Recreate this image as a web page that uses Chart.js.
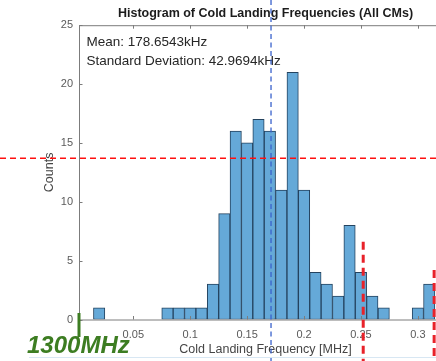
<!DOCTYPE html>
<html>
<head>
<meta charset="utf-8">
<script src="https://cdn.jsdelivr.net/npm/chart.js@4/dist/chart.umd.min.js"></script>
<style>
  html, body { margin: 0; padding: 0; background: #fff; }
  #wrap { width: 436px; height: 361px; overflow: hidden; position: relative; }
  canvas { display: block; }
</style>
</head>
<body>
<div id="wrap"><canvas id="hist" width="460" height="361"></canvas></div>
<script>
// histogram bins (MHz) and counts
const binCenters = [0.02, 0.03, 0.04, 0.05, 0.06, 0.07, 0.08, 0.09, 0.10, 0.11,
                    0.12, 0.13, 0.14, 0.15, 0.16, 0.17, 0.18, 0.19, 0.20, 0.21,
                    0.22, 0.23, 0.24, 0.25, 0.26, 0.27, 0.28, 0.29, 0.30, 0.31];
const counts = [1, 0, 0, 0, 0, 0, 1, 1, 1, 1,
                3, 9, 16, 15, 17, 16, 11, 21, 11, 4,
                3, 2, 8, 4, 2, 1, 0, 0, 1, 3];

const xTickValues = [0.05, 0.1, 0.15, 0.2, 0.25, 0.3];
const xTickLabels = ['0.05', '0.1', '0.15', '0.2', '0.25', '0.3'];
const yTickValues = [0, 5, 10, 15, 20, 25];

const statsLines = ['Mean: 178.6543kHz', 'Standard Deviation: 42.9694kHz'];

// hand-drawn marker lines on top of the screenshot (data units)
const redHorizontalCount = 13.7;
const blueVerticalFreq = 0.171;
const redVerticalFreqs = [0.252, 0.3143];
const redVerticalFromCount = [6.6, 4.2];
const cornerLabel = '1300MHz';

const FONT = '"Liberation Sans", Arial, Helvetica, sans-serif';

const frameAndNotes = {
    id: 'frameAndNotes',
    afterDatasetsDraw(chart) {
        const { ctx, chartArea: a, scales: { x, y } } = chart;
        ctx.save();
        ctx.strokeStyle = '#7c7c7c';
        ctx.lineWidth = 1;
        ctx.strokeRect(a.left + 0.5, a.top + 0.5, a.right - a.left, a.bottom - a.top);
        // MATLAB style inward ticks
        ctx.beginPath();
        xTickValues.forEach(v => {
            let px = Math.round(x.getPixelForValue(v)) + 0.5;
            ctx.moveTo(px, a.bottom); ctx.lineTo(px, a.bottom - 3.5);
            ctx.moveTo(px, a.top); ctx.lineTo(px, a.top + 3.5);
        });
        yTickValues.forEach(v => {
            let py = Math.round(y.getPixelForValue(v)) + 0.5;
            ctx.moveTo(a.left, py); ctx.lineTo(a.left + 3.5, py);
            ctx.moveTo(a.right, py); ctx.lineTo(a.right - 3.5, py);
        });
        ctx.stroke();

        ctx.fillStyle = '#262626';
        ctx.font = '13.5px ' + FONT;
        ctx.textBaseline = 'middle';
        ctx.textAlign = 'left';
        statsLines.forEach((t, i) => ctx.fillText(t, a.left + 7.5, a.top + 17.5 + i * 18.4));
        ctx.restore();
    },
    afterDraw(chart) {
        const { ctx, chartArea: a, scales: { x, y } } = chart;
        const W = chart.width, H = chart.height;
        ctx.save();

        // red dashed horizontal
        ctx.strokeStyle = '#ff1010';
        ctx.lineWidth = 1.5;
        ctx.setLineDash([6, 4]);
        let hy = y.getPixelForValue(redHorizontalCount);
        ctx.beginPath(); ctx.moveTo(0, hy); ctx.lineTo(W, hy); ctx.stroke();

        // blue dashed vertical
        ctx.strokeStyle = '#3a62cc';
        ctx.lineWidth = 1.3;
        ctx.setLineDash([5, 3.5]);
        let bx = x.getPixelForValue(blueVerticalFreq);
        ctx.beginPath(); ctx.moveTo(bx, 0); ctx.lineTo(bx, H); ctx.stroke();

        // thick red dashed verticals
        ctx.strokeStyle = '#e8222a';
        ctx.lineWidth = 3;
        ctx.setLineDash([8, 5]);
        redVerticalFreqs.forEach((f, i) => {
            let vx = x.getPixelForValue(f);
            ctx.beginPath();
            ctx.moveTo(vx, y.getPixelForValue(redVerticalFromCount[i]));
            ctx.lineTo(vx, H);
            ctx.stroke();
        });

        // faint slide border line
        ctx.setLineDash([]);
        ctx.strokeStyle = '#d8e7f3';
        ctx.lineWidth = 1;
        ctx.beginPath(); ctx.moveTo(29, 357.5); ctx.lineTo(W, 357.5); ctx.stroke();

        // green marker + label
        ctx.strokeStyle = '#3d7d22';
        ctx.lineWidth = 3;
        ctx.beginPath(); ctx.moveTo(a.left, 313); ctx.lineTo(a.left, 337); ctx.stroke();
        ctx.fillStyle = '#3d7d22';
        ctx.font = 'italic bold 24px ' + FONT;
        ctx.textBaseline = 'alphabetic';
        ctx.textAlign = 'left';
        ctx.fillText(cornerLabel, 27, 353);
        ctx.restore();
    }
};

new Chart(document.getElementById('hist'), {
    type: 'bar',
    data: {
        datasets: [{
            data: binCenters.map((c, i) => ({ x: c, y: counts[i] })),
            backgroundColor: '#65a9d8',
            borderColor: '#24435f',
            borderWidth: 1,
            borderSkipped: false,
            barPercentage: 1,
            categoryPercentage: 1
        }]
    },
    options: {
        responsive: false,
        animation: false,
        layout: { padding: { left: 0, right: 8, top: 0, bottom: 0 } },
        plugins: {
            legend: { display: false },
            tooltip: { enabled: false },
            title: {
                display: true,
                text: 'Histogram of Cold Landing Frequencies (All CMs)',
                fullSize: false,
                color: '#1c1c1c',
                font: { family: FONT, size: 12.5, weight: 'bold' },
                padding: { top: 6.5, bottom: 3.7 }
            }
        },
        scales: {
            x: {
                type: 'linear',
                min: 0.0023,
                max: 0.33,
                offset: false,
                grid: { display: false, drawTicks: false },
                border: { display: false },
                afterBuildTicks: s => { s.ticks = xTickValues.map(v => ({ value: v })); },
                afterFit: s => { s.height = 41.5; },
                ticks: {
                    padding: 8.5,
                    color: '#5a5a5a',
                    font: { family: FONT, size: 11 },
                    maxRotation: 0,
                    autoSkip: false,
                    callback: (v, i) => xTickLabels[i]
                },
                title: {
                    display: true,
                    text: 'Cold Landing Frequency [MHz]',
                    color: '#454545',
                    font: { family: FONT, size: 12.5 },
                    padding: { top: 0, bottom: 3.5 }
                }
            },
            y: {
                min: 0,
                max: 25,
                grid: { display: false, drawTicks: false },
                border: { display: false },
                afterBuildTicks: s => { s.ticks = yTickValues.map(v => ({ value: v })); },
                afterFit: s => { s.width = 79; },
                ticks: {
                    padding: 6,
                    color: '#5a5a5a',
                    font: { family: FONT, size: 11 }
                },
                title: {
                    display: true,
                    text: 'Counts',
                    color: '#454545',
                    font: { family: FONT, size: 12.5 },
                    padding: { top: 42.5, bottom: 0 }
                }
            }
        }
    },
    plugins: [frameAndNotes]
});
</script>
</body>
</html>
